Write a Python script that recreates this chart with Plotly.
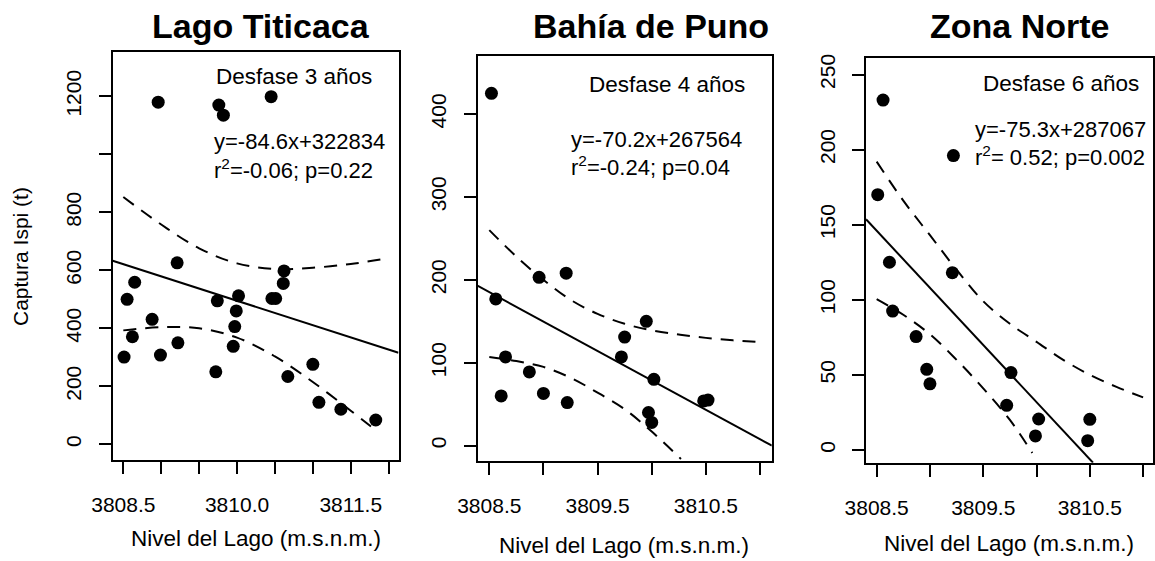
import plotly.graph_objects as go

W, H = 1155, 561

# ---------------- Data ----------------
titles = ["Lago Titicaca", "Bahía de Puno", "Zona Norte"]
lag_labels = ["Desfase 3 años", "Desfase 4 años", "Desfase 6 años"]
eq_labels = ["y=-84.6x+322834", "y=-70.2x+267564", "y=-75.3x+287067"]
r2_labels = ["r<sup>2</sup>=-0.06; p=0.22", "r<sup>2</sup>=-0.24; p=0.04", "r<sup>2</sup>= 0.52; p=0.002"]
x_title = "Nivel del Lago (m.s.n.m.)"
y_title = "Captura Ispi (t)"

# Panel 1: Lago Titicaca
lt_x = [3808.96, 3809.76, 3809.82, 3810.45, 3809.21, 3808.65, 3810.62, 3810.61, 3808.55,
        3808.62, 3808.51, 3808.88, 3808.99, 3809.22, 3809.74, 3809.72, 3810.02, 3809.99,
        3809.97, 3809.95, 3810.46, 3810.51, 3810.67, 3811.00, 3811.08, 3811.37, 3811.83]
lt_y = [1180, 1170, 1135, 1199, 626, 559, 598, 555, 500,
        371, 301, 431, 308, 350, 495, 250, 512, 460,
        406, 338, 503, 503, 234, 276, 145, 121, 84]
lt_fit_x = [3808.36, 3812.13]
lt_fit_y = [633, 316]
lt_band_x = [3808.5, 3809.0, 3809.5, 3810.0, 3810.5, 3811.0, 3811.5, 3811.95]
lt_upper = [853, 758, 676, 624, 605, 609, 622, 640]
lt_band_lx = [3808.5, 3809.0, 3809.5, 3810.0, 3810.5, 3811.0, 3811.5, 3811.85]
lt_lower = [393, 404, 400, 368, 303, 215, 116, 44]

# Panel 2: Bahía de Puno
bp_x = [3808.52, 3808.96, 3809.21, 3808.56, 3808.65, 3808.61, 3808.87, 3809.00,
        3809.22, 3809.72, 3809.75, 3809.95, 3810.02, 3809.97, 3810.00, 3810.48, 3810.52]
bp_y = [425, 203, 208, 177, 107, 60, 89, 63,
        52, 107, 131, 150, 80, 40, 28, 54, 55]
bp_fit_x = [3808.39, 3811.11]
bp_fit_y = [193, 0]
bp_band_x = [3808.5, 3808.75, 3809.0, 3809.25, 3809.5, 3809.75, 3810.0, 3810.25, 3810.5, 3810.75, 3811.0]
bp_upper = [260, 228, 200, 176, 159, 147, 139, 134, 130, 127, 125]
bp_band_lx = [3808.5, 3808.75, 3809.0, 3809.25, 3809.5, 3809.75, 3810.0, 3810.27]
bp_lower = [107, 102, 95, 82, 64, 44, 17, -16]

# Panel 3: Zona Norte
zn_x = [3808.56, 3808.51, 3808.62, 3809.21, 3809.22, 3808.65, 3808.87, 3808.97,
        3809.00, 3809.76, 3809.72, 3810.02, 3809.99, 3810.50, 3810.48]
zn_y = [233, 170, 125, 118, 196, 92.5, 75.5, 53.7,
        44, 51.5, 29.7, 20.6, 9.3, 20.4, 6.2]
zn_fit_x = [3808.40, 3810.53]
zn_fit_y = [153.6, -8.5]
zn_band_x = [3808.5, 3808.75, 3809.0, 3809.25, 3809.5, 3809.75, 3810.0, 3810.25, 3810.5, 3810.75, 3811.0]
zn_upper = [192, 166, 143, 120, 99, 84, 72, 60, 50, 42, 35]
zn_band_lx = [3808.5, 3808.75, 3809.0, 3809.25, 3809.5, 3809.75, 3809.96]
zn_lower = [100.5, 90, 77, 60, 41, 20, -2]

# Axis ticks
lt_xticks = [3808.5, 3809.0, 3809.5, 3810.0, 3810.5, 3811.0, 3811.5, 3812.0]
lt_xtext = ["3808.5", "", "", "3810.0", "", "", "3811.5", ""]
lt_yticks = [0, 200, 400, 600, 800, 1000, 1200]
lt_ytext = ["0", "200", "400", "600", "800", "", "1200"]
bz_xticks = [3808.5, 3809.0, 3809.5, 3810.0, 3810.5, 3811.0]
bz_xtext = ["3808.5", "", "3809.5", "", "3810.5", ""]
bp_yticks = [0, 100, 200, 300, 400]
zn_yticks = [0, 50, 100, 150, 200, 250]

# ---------------- Layout (pixel boxes) ----------------
boxes = [  # left, top, right, bottom in px
    (112.7, 52, 398.5, 460),
    (477.7, 56, 771.7, 461),
    (866, 58.3, 1152.7, 462.7),
]
xranges = [[3808.36, 3812.13], [3808.393, 3811.108], [3808.40, 3811.09]]
yranges = [[-54, 1353], [-18.5, 470], [-8.5, 260.8]]

FONT = "Liberation Sans, Arial, Helvetica, sans-serif"
fig = go.Figure()

panels = [
    (lt_x, lt_y, lt_fit_x, lt_fit_y, lt_band_x, lt_upper, lt_band_lx, lt_lower),
    (bp_x, bp_y, bp_fit_x, bp_fit_y, bp_band_x, bp_upper, bp_band_lx, bp_lower),
    (zn_x, zn_y, zn_fit_x, zn_fit_y, zn_band_x, zn_upper, zn_band_lx, zn_lower),
]

for i, (px, py, fx, fy, ux, uy, lx, ly) in enumerate(panels):
    xa = "x" if i == 0 else f"x{i+1}"
    ya = "y" if i == 0 else f"y{i+1}"
    dash = dict(color="black", width=2, dash="13px,9px")
    fig.add_trace(go.Scatter(x=ux, y=uy, mode="lines", line=dict(shape="spline", **dash),
                             xaxis=xa, yaxis=ya, showlegend=False, hoverinfo="skip"))
    fig.add_trace(go.Scatter(x=lx, y=ly, mode="lines", line=dict(shape="spline", **dash),
                             xaxis=xa, yaxis=ya, showlegend=False, hoverinfo="skip"))
    fig.add_trace(go.Scatter(x=fx, y=fy, mode="lines", line=dict(color="black", width=2),
                             xaxis=xa, yaxis=ya, showlegend=False, hoverinfo="skip"))
    fig.add_trace(go.Scatter(x=px, y=py, mode="markers",
                             marker=dict(color="black", size=13, line=dict(width=0)),
                             xaxis=xa, yaxis=ya, showlegend=False))

xtick_sets = [(lt_xticks, lt_xtext), (bz_xticks, bz_xtext), (bz_xticks, bz_xtext)]
ytick_sets = [(lt_yticks, lt_ytext), (bp_yticks, [str(v) for v in bp_yticks]),
              (zn_yticks, [str(v) for v in zn_yticks])]

axis_common = dict(showline=True, linecolor="black", linewidth=2, mirror=True,
                   ticks="outside", ticklen=12, tickwidth=2, tickcolor="black",
                   showgrid=False, zeroline=False, automargin=False,
                   tickfont=dict(family=FONT, size=21, color="black"))

layout = {}
for i, (l, t, r, b) in enumerate(boxes):
    xk = "xaxis" if i == 0 else f"xaxis{i+1}"
    yk = "yaxis" if i == 0 else f"yaxis{i+1}"
    xa = "x" if i == 0 else f"x{i+1}"
    ya = "y" if i == 0 else f"y{i+1}"
    layout[xk] = dict(domain=[l / W, r / W], range=xranges[i], anchor=ya,
                      tickmode="array", tickvals=xtick_sets[i][0], ticktext=xtick_sets[i][1],
                      ticklabelstandoff=13, **axis_common)
    layout[yk] = dict(domain=[1 - b / H, 1 - t / H], range=yranges[i], anchor=xa,
                      tickmode="array", tickvals=ytick_sets[i][0], ticktext=ytick_sets[i][1],
                      tickangle=-90, ticklabelstandoff=9, **axis_common)

fig.update_layout(**layout)

ann = []
def A(text, px, py, size, xanchor="left", bold=False, angle=0):
    ann.append(dict(text=f"<b>{text}</b>" if bold else text, x=px / W, y=1 - py / H,
                    xref="paper", yref="paper", xanchor=xanchor, yanchor="middle",
                    showarrow=False, textangle=angle,
                    font=dict(family=FONT, size=size, color="black")))

title_pos = [(261, 26), (651, 26), (1019, 26)]
for t, (cx, cy) in zip(titles, title_pos):
    A(t, cx, cy, 34, xanchor="center", bold=True)

lag_pos = [(214, 77), (587, 85), (981, 83)]
eq_pos = [(212, 141), (569, 139), (973, 130)]
r2_pos = [(212, 169), (569, 166), (973, 156)]
for k in range(3):
    A(lag_labels[k], *lag_pos[k], 22.5)
    A(eq_labels[k], *eq_pos[k], 22)
    A(r2_labels[k], *r2_pos[k], 22)

xt_pos = [(256, 538), (624, 545), (1009, 543)]
for (cx, cy) in xt_pos:
    A(x_title, cx, cy, 22.5, xanchor="center")
A(y_title, 20, 257, 21, xanchor="center", angle=-90)

fig.update_layout(width=W, height=H, margin=dict(l=0, r=0, t=0, b=0),
                  paper_bgcolor="white", plot_bgcolor="white",
                  annotations=ann, showlegend=False)

fig.write_html("out.html")
